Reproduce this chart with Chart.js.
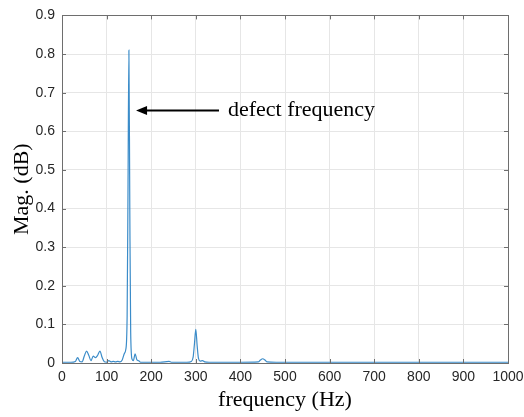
<!DOCTYPE html>
<html>
<head>
<meta charset="utf-8">
<script src="https://cdn.jsdelivr.net/npm/chart.js@4/dist/chart.umd.min.js"></script>
<style>
  html, body { margin: 0; padding: 0; background: #fff; }
  #wrap { width: 524px; height: 417px; }
</style>
</head>
<body>
<div id="wrap"><canvas id="chart" width="524" height="417"></canvas></div>
<script>
// spectrum
const freq = [0, 20, 30, 35, 40, 45, 50, 55, 60, 65, 70, 75, 80, 85, 90, 95, 100, 105, 110, 115, 120, 125, 130, 135,
    140, 143, 146, 148, 150, 152, 154, 157, 160, 164, 168, 172, 176, 180, 200, 220, 240, 245, 260, 280, 290, 294,
    297, 300, 303, 306, 310, 315, 320, 330, 350, 400, 440, 445, 450, 455, 460, 480, 500, 600, 700, 800, 900, 1000];
const mag = [0.002, 0.002, 0.004, 0.014, 0.004, 0.003, 0.018, 0.031, 0.02, 0.006, 0.018, 0.014, 0.02, 0.031, 0.014, 0.003, 0.002, 0.006, 0.003, 0.004, 0.003, 0.004, 0.003, 0.008,
    0.025, 0.035, 0.12, 0.45, 0.81, 0.4, 0.08, 0.01, 0.006, 0.024, 0.008, 0.006, 0.002, 0.002, 0.002, 0.002, 0.004, 0.002, 0.002, 0.002, 0.004, 0.015,
    0.05, 0.087, 0.045, 0.012, 0.005, 0.006, 0.003, 0.002, 0.002, 0.002, 0.003, 0.008, 0.011, 0.008, 0.003, 0.002, 0.002, 0.002, 0.002, 0.002, 0.002, 0.002];

const xTicks = [0, 100, 200, 300, 400, 500, 600, 700, 800, 900, 1000];
const yTicks = [0, 0.1, 0.2, 0.3, 0.4, 0.5, 0.6, 0.7, 0.8, 0.9];

const xLabel = 'frequency (Hz)';
const yLabel = 'Mag. (dB)';
const noteText = 'defect frequency';
const noteArrow = { fromX: 352, toX: 166, y: 0.656 }; // in data units
const noteTextX = 372;

const axisColor = '#262626';

// box, inward ticks, axis titles and the arrow note (MATLAB look)
const extras = {
    id: 'extras',
    afterDraw(chart) {
        const ctx = chart.ctx;
        const a = chart.chartArea;
        const xs = chart.scales.x;
        const ys = chart.scales.y;

        ctx.save();
        ctx.strokeStyle = '#6e6e6e';
        ctx.lineWidth = 1;
        ctx.strokeRect(Math.round(a.left) + 0.5, Math.round(a.top) + 0.5,
            Math.round(a.right - a.left), Math.round(a.bottom - a.top));

        ctx.beginPath();
        xTicks.forEach(v => {
            const px = Math.round(xs.getPixelForValue(v)) + 0.5;
            ctx.moveTo(px, a.bottom); ctx.lineTo(px, a.bottom - 4);
            ctx.moveTo(px, a.top); ctx.lineTo(px, a.top + 4);
        });
        yTicks.forEach(v => {
            const py = Math.round(ys.getPixelForValue(v)) + 0.5;
            ctx.moveTo(a.left, py); ctx.lineTo(a.left + 4, py);
            ctx.moveTo(a.right, py); ctx.lineTo(a.right - 4, py);
        });
        ctx.stroke();

        // axis titles
        ctx.fillStyle = '#000';
        ctx.font = '22px "Liberation Serif", "Times New Roman", serif';
        ctx.textAlign = 'center';
        ctx.textBaseline = 'alphabetic';
        ctx.fillText(xLabel, (a.left + a.right) / 2, 406);
        ctx.save();
        ctx.translate(28, (a.top + a.bottom) / 2);
        ctx.rotate(-Math.PI / 2);
        ctx.fillText(yLabel, 0, 0);
        ctx.restore();

        // arrow note
        const x1 = xs.getPixelForValue(noteArrow.fromX);
        const x2 = xs.getPixelForValue(noteArrow.toX);
        const y = Math.round(ys.getPixelForValue(noteArrow.y)) + 0.5;
        ctx.strokeStyle = '#000';
        ctx.lineWidth = 2;
        ctx.beginPath();
        ctx.moveTo(x1, y);
        ctx.lineTo(x2 + 8, y);
        ctx.stroke();
        ctx.fillStyle = '#000';
        ctx.beginPath();
        ctx.moveTo(x2, y);
        ctx.lineTo(x2 + 11, y - 4.5);
        ctx.lineTo(x2 + 11, y + 4.5);
        ctx.closePath();
        ctx.fill();

        ctx.textAlign = 'left';
        ctx.textBaseline = 'middle';
        ctx.fillText(noteText, xs.getPixelForValue(noteTextX), y);
        ctx.restore();
    }
};

new Chart(document.getElementById('chart'), {
    type: 'line',
    data: {
        datasets: [{
            data: freq.map((f, i) => ({ x: f, y: mag[i] })),
            borderColor: '#3b8cc9',
            borderWidth: 1.2,
            pointRadius: 0,
            fill: false,
            cubicInterpolationMode: 'monotone'
        }]
    },
    options: {
        responsive: false,
        animation: false,
        layout: { padding: { left: 0, right: 16, top: 13, bottom: 0 } },
        plugins: {
            legend: { display: false },
            tooltip: { enabled: false }
        },
        scales: {
            x: {
                type: 'linear',
                min: 0,
                max: 1000,
                afterFit: s => { s.height = 54; s.paddingRight = 0; s.paddingLeft = 0; },
                afterBuildTicks: s => { s.ticks = xTicks.map(v => ({ value: v })); },
                grid: { color: '#e6e6e6', drawTicks: false },
                border: { display: false },
                ticks: {
                    padding: 6,
                    maxRotation: 0,
                    color: axisColor,
                    font: { family: '"Liberation Sans", Arial, sans-serif', size: 14 },
                    callback: v => String(v)
                }
            },
            y: {
                type: 'linear',
                min: 0,
                max: 0.9,
                afterFit: s => { s.width = 62; },
                afterBuildTicks: s => { s.ticks = yTicks.map(v => ({ value: v })); },
                grid: { color: '#e6e6e6', drawTicks: false },
                border: { display: false },
                ticks: {
                    padding: 7,
                    color: axisColor,
                    font: { family: '"Liberation Sans", Arial, sans-serif', size: 14 },
                    callback: v => String(Math.round(v * 10) / 10)
                }
            }
        }
    },
    plugins: [extras]
});
</script>
</body>
</html>
